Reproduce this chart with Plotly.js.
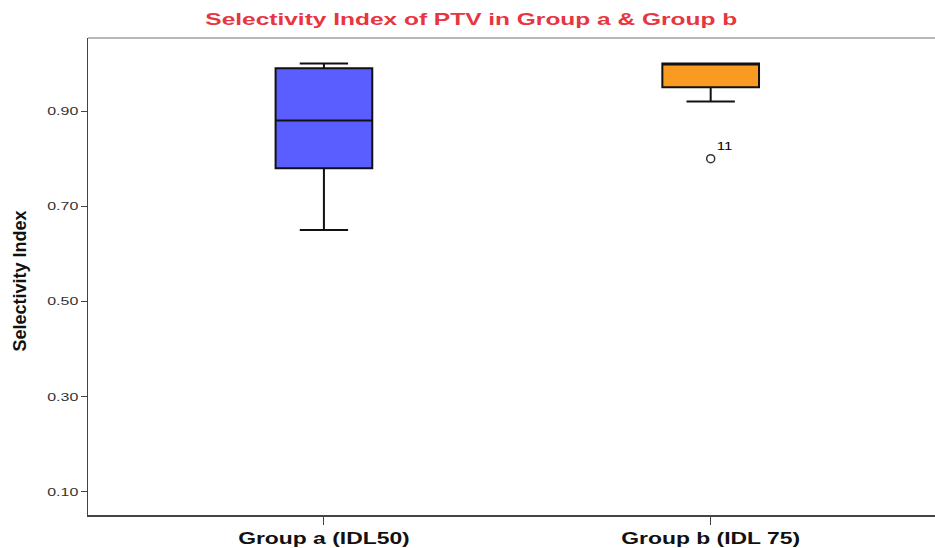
<!DOCTYPE html>
<html>
<head>
<meta charset="utf-8">
<script src="https://cdn.plot.ly/plotly-3.0.1.min.js"></script>
<style>
html,body{margin:0;padding:0;background:#fff;}
#chart{width:935px;height:548px;}
</style>
</head>
<body>
<div id="chart"></div>
<script>
// Data
const groups = ["Group a (IDL50)", "Group b (IDL 75)"];
const lowerWhisker = [0.65, 0.92];
const q1Values = [0.78, 0.95];
const medianValues = [0.88, 1.00];
const q3Values = [0.99, 1.00];
const upperWhisker = [1.00, 1.00];
const boxColors = ["#5a5eff", "#f99b20"];
const outlierGroup = [1];
const outlierValues = [0.80];
const outlierLabels = ["11"];
const yTickVals = [0.10, 0.30, 0.50, 0.70, 0.90];
const yTickText = ["0.10", "0.30", "0.50", "0.70", "0.90"];

const traces = groups.map((g, i) => ({
  type: "box",
  x: [i],
  q1: [q1Values[i]],
  median: [medianValues[i]],
  q3: [q3Values[i]],
  lowerfence: [lowerWhisker[i]],
  upperfence: [upperWhisker[i]],
  width: 0.25,
  whiskerwidth: 0.5,
  fillcolor: boxColors[i],
  line: { color: "#111111", width: 2 },
  hoverinfo: "skip",
  showlegend: false
}));

traces.push({
  type: "scatter",
  mode: "markers+text",
  x: outlierGroup,
  y: outlierValues,
  text: outlierLabels,
  textposition: "top right",
  textfont: { family: "Liberation Sans, Arial, sans-serif", size: 10, color: "#000" },
  marker: { symbol: "circle-open", size: 8, color: "#333", line: { width: 1.5, color: "#333" } },
  showlegend: false,
  cliponaxis: false
});

const layout = {
  width: 935,
  height: 548,
  margin: { l: 88, r: 0, t: 38, b: 33 },
  paper_bgcolor: "#fff",
  plot_bgcolor: "#fff",
  title: {
    text: "Selectivity Index of PTV in Group a & Group b",
    font: { family: "Liberation Sans, Arial, sans-serif", size: 17, weight: "bold", color: "#e8353f" },
    x: 0.504, xanchor: "center",
    y: 0.965, yanchor: "middle"
  },
  xaxis: {
    range: [-0.61, 1.58],
    tickmode: "array",
    tickvals: groups.map((g, i) => i),
    ticktext: groups,
    ticks: "outside",
    ticklen: 8,
    tickcolor: "#444",
    tickwidth: 1,
    showline: true,
    linecolor: "#444",
    linewidth: 1.5,
    showgrid: false,
    zeroline: false,
    tickfont: { family: "Liberation Sans, Arial, sans-serif", size: 16, weight: "bold", color: "#111" }
  },
  yaxis: {
    range: [0.0516, 1.0535],
    tickmode: "array",
    tickvals: yTickVals,
    ticktext: yTickText,
    ticks: "outside",
    ticklen: 6,
    tickcolor: "#444",
    showline: true,
    linecolor: "#444",
    linewidth: 1.5,
    showgrid: false,
    zeroline: false,
    tickfont: { family: "Liberation Sans, Arial, sans-serif", size: 11, color: "#333" }
  },
  annotations: [{
    text: "Selectivity Index",
    xref: "paper", yref: "paper",
    x: -0.080, y: 0.49,
    xanchor: "center", yanchor: "middle",
    textangle: -90,
    showarrow: false,
    font: { family: "Liberation Sans Narrow, Liberation Sans, Arial Narrow, sans-serif", size: 18, weight: "bold", color: "#111" }
  }],
  shapes: [{
    type: "line", xref: "paper", yref: "paper",
    x0: 0, x1: 1, y0: 1, y1: 1,
    line: { color: "#a0a0a0", width: 1.5 }
  }]
};

// the reference's text is horizontally stretched; mimic that on the real text elements
function stretchText(selector, factor) {
  document.querySelectorAll(selector).forEach(t => {
    const len = t.getComputedTextLength();
    if (len > 0) {
      t.setAttribute("textLength", (len * factor).toFixed(2));
      t.setAttribute("lengthAdjust", "spacingAndGlyphs");
    }
  });
}

Plotly.newPlot("chart", traces, layout, { displayModeBar: false, staticPlot: true }).then(() => {
  stretchText("#chart .gtitle", 1.44);
  stretchText("#chart .xtick text", 1.43);
  stretchText("#chart .ytick text", 1.45);
  stretchText("#chart .textpoint text", 1.5);
});
</script>
</body>
</html>
